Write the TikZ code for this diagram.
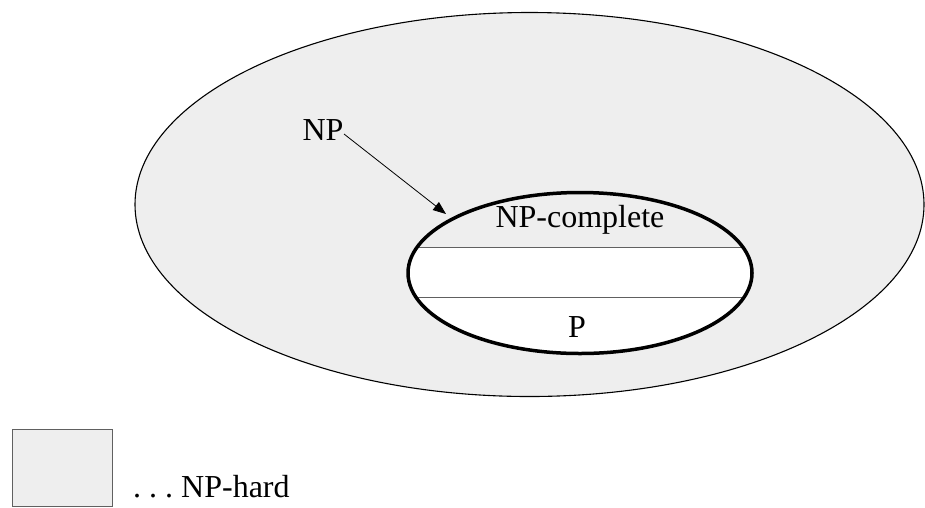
\documentclass[tikz,border=0pt]{standalone}
\usepackage{fontspec}
\setmainfont{Liberation Serif}
\usetikzlibrary{arrows.meta}
\definecolor{hardgray}{HTML}{EEEEEE}
\definecolor{linegray}{HTML}{606060}
\begin{document}
\begin{tikzpicture}[x=1pt,y=-1pt,
  lbl/.style={font=\fontsize{32}{38}\selectfont, inner sep=0pt, anchor=base},
  divider/.style={draw=linegray, line width=1pt}]
\useasboundingbox (0,0) rectangle (925,507);
% outer ellipse (NP-hard region)
\path[fill=hardgray, draw=black, line width=1.1pt] (529.5,204.5) ellipse [x radius=394.5pt, y radius=192pt];
% inner ellipse
\path[fill=white] (580,273) ellipse [x radius=172pt, y radius=80.5pt];
\begin{scope}
  \clip (580,273) ellipse [x radius=172pt, y radius=80.5pt];
  \fill[hardgray] (400,180) rectangle (760,247);
  \draw[divider] (400,247) -- (760,247);
  \draw[divider] (400,297) -- (760,297);
\end{scope}
\draw[line width=3.5pt] (580,273) ellipse [x radius=172pt, y radius=80.5pt];
% labels
\node[lbl] (npc) at (580,227) {NP-complete};
\node[lbl] (p) at (577,337) {P};
\node[lbl] (np) at (323,140) {NP};
% arrow
\coordinate (npstart) at (344,134);
\coordinate (nptip) at (446,214);
\draw[-{Triangle[length=13pt,width=10pt]}, line width=0.8pt] (npstart) -- (nptip);
% legend
\node[draw=linegray, fill=hardgray, minimum width=100pt, minimum height=77pt, inner sep=0pt, line width=0.8pt] (legbox) at (62,467.5) {};
\node[lbl, anchor=base west] (legtxt) at (133,497) {.\ .\ .\ NP-hard};
\end{tikzpicture}
\end{document}
